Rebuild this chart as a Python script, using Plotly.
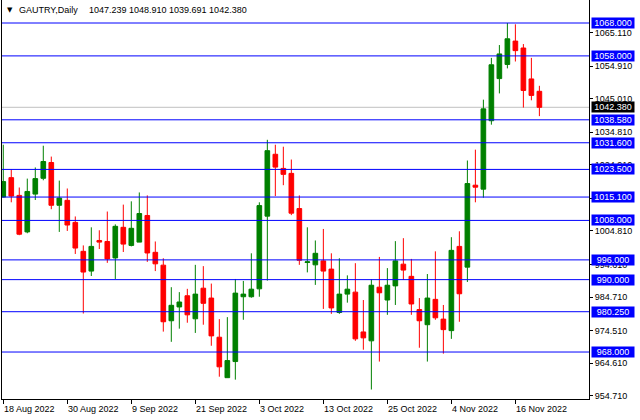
import pandas as pd
import plotly.graph_objects as go

# ---------------- data ----------------
dates = pd.bdate_range("2022-08-18", "2022-11-21").strftime("%Y-%m-%d").tolist()

opens = [1015.1, 1021.0, 1015.6, 1004.5, 1016.0, 1020.8, 1025.6, 1012.6, 1014.1, 1007.4,
         998.6, 992.6, 1001.9, 1001.6, 996.6, 1005.9, 1000.4, 1001.4, 1009.5, 998.3,
         994.4, 977.5, 981.7, 985.1, 978.1, 987.4, 984.4, 972.5, 960.2, 965.1,
         984.8, 984.8, 987.2, 1009.3, 1028.1, 1023.8, 1022.3, 1011.6, 995.2, 994.5,
         995.7, 993.2, 980.0, 985.6, 986.2, 974.1, 971.4, 987.7, 983.8, 988.1,
         994.7, 991.0, 980.9, 976.3, 984.0, 978.0, 974.5, 1000.1, 993.8, 1018.7,
         1017.5, 1038.3, 1051.1, 1055.4, 1062.5, 1060.4, 1051.0, 1047.239]
highs = [1031.0, 1023.5, 1018.0, 1020.7, 1024.1, 1030.7, 1027.4, 1020.1, 1017.7, 1009.2,
         1000.4, 1005.9, 1005.0, 1010.7, 1006.8, 1012.8, 1013.8, 1016.5, 1015.6, 1001.6,
         996.5, 987.7, 986.2, 987.2, 994.5, 994.1, 988.8, 978.0, 978.6, 990.2,
         989.6, 998.0, 1013.5, 1032.5, 1031.0, 1030.4, 1026.5, 1015.6, 1005.9, 1001.9,
         1005.4, 998.0, 996.5, 991.3, 995.0, 983.8, 990.1, 996.9, 993.5, 1001.7,
         1002.6, 996.3, 984.4, 991.7, 998.6, 982.3, 1002.9, 1004.7, 1026.2, 1029.5,
         1044.7, 1057.4, 1061.3, 1068.0, 1067.6, 1061.6, 1057.4, 1048.910]
lows = [1015.0, 1013.5, 1003.5, 1004.1, 1014.2, 1020.2, 1011.4, 1004.5, 1004.8, 997.8,
        979.7, 991.1, 999.3, 995.1, 990.2, 998.4, 1000.1, 1001.4, 995.4, 992.6,
        974.2, 971.1, 975.1, 976.9, 973.8, 976.3, 969.9, 960.5, 960.2, 959.6,
        977.8, 984.5, 984.8, 989.7, 1015.4, 1018.7, 1009.6, 994.5, 992.2, 988.4,
        981.1, 979.6, 979.6, 983.0, 971.4, 968.7, 956.6, 965.1, 979.3, 982.3,
        989.9, 979.3, 969.3, 965.1, 977.8, 967.5, 972.0, 977.2, 989.3, 1013.5,
        1014.9, 1037.1, 1046.6, 1054.2, 1056.3, 1042.3, 1044.5, 1039.691]
closes = [1019.8, 1015.4, 1003.8, 1016.8, 1020.7, 1025.9, 1012.6, 1014.8, 1006.6, 999.6,
          992.3, 1000.1, 1001.4, 996.3, 1006.2, 1000.8, 1005.6, 1010.1, 998.1, 994.8,
          977.2, 982.2, 983.2, 979.3, 985.6, 982.8, 972.9, 963.5, 965.4, 985.9,
          985.6, 987.1, 1012.5, 1029.2, 1024.2, 1022.0, 1010.2, 995.9, 995.4, 998.0,
          992.6, 981.4, 985.6, 987.1, 972.0, 972.3, 988.3, 986.0, 988.3, 995.7,
          992.9, 982.6, 977.5, 984.4, 978.4, 974.8, 998.9, 985.7, 1019.2, 1018.1,
          1041.9, 1055.3, 1058.6, 1063.2, 1059.6, 1047.5, 1046.0, 1042.380]

levels = [1068.0, 1058.0, 1038.58, 1031.6, 1023.5, 1015.1, 1008.0, 996.0, 990.0, 980.25, 968.0]
last_price = 1042.38

ytick_vals = [1065.11, 1054.91, 1045.01, 1034.81, 1024.91, 1014.71,
              1004.81, 994.61, 984.71, 974.51, 964.61, 954.71]

date_tick_idx = [0, 8, 16, 24, 32, 40, 48, 56, 64]
date_tick_labels = ["18 Aug 2022", "30 Aug 2022", "9 Sep 2022", "21 Sep 2022", "3 Oct 2022",
                    "13 Oct 2022", "25 Oct 2022", "4 Nov 2022", "16 Nov 2022"]

title_symbol = "GAUTRY,Daily"
title_values = "1047.239 1048.910 1039.691 1042.380"

# ---------------- figure ----------------
FONT = "Liberation Sans, Arial, sans-serif"
fig = go.Figure()
fig.add_trace(go.Candlestick(
    x=dates, open=opens, high=highs, low=lows, close=closes,
    increasing=dict(line=dict(color="#008000", width=1), fillcolor="#008000"),
    decreasing=dict(line=dict(color="#FF0000", width=1), fillcolor="#FF0000"),
    whiskerwidth=0, showlegend=False, hoverinfo="skip",
))

shapes = []
for lv in levels:
    shapes.append(dict(type="line", xref="paper", x0=0, x1=1, yref="y", y0=lv, y1=lv,
                       line=dict(color="#0000FF", width=1), layer="above"))
shapes.append(dict(type="line", xref="paper", x0=0, x1=1, yref="y", y0=last_price, y1=last_price,
                   line=dict(color="#C0C0C0", width=1), layer="below"))

annotations = []
for lv in levels:
    annotations.append(dict(xref="paper", x=1, xanchor="left", xshift=2, yref="y", y=lv,
                            yanchor="middle", text=f"{lv:.3f}", showarrow=False,
                            bgcolor="#0000FF", font=dict(color="white", size=9, family=FONT),
                            width=42, height=10, borderpad=0, align="center"))
annotations.append(dict(xref="paper", x=1, xanchor="left", xshift=2, yref="y", y=last_price,
                        yanchor="middle", text=f"{last_price:.3f}", showarrow=False,
                        bgcolor="#000000", font=dict(color="white", size=9, family=FONT),
                        width=42, height=10, borderpad=0, align="center"))
for i, lab in zip(date_tick_idx, date_tick_labels):
    annotations.append(dict(xref="x", x=dates[i], xanchor="left", xshift=-1,
                            yref="paper", y=0, yanchor="top", yshift=-3,
                            text=lab, showarrow=False,
                            font=dict(color="black", size=9, family=FONT)))
annotations.append(dict(xref="paper", x=0, xanchor="left", xshift=3, yref="paper", y=1,
                        yanchor="top", yshift=-4, text="▼", showarrow=False,
                        font=dict(color="black", size=7, family="DejaVu Sans")))
annotations.append(dict(xref="paper", x=0, xanchor="left", xshift=15, yref="paper", y=1,
                        yanchor="top", yshift=-3, text=title_symbol, showarrow=False,
                        font=dict(color="black", size=9, family=FONT)))
annotations.append(dict(xref="paper", x=0, xanchor="left", xshift=85, yref="paper", y=1,
                        yanchor="top", yshift=-3, text=title_values, showarrow=False,
                        font=dict(color="black", size=9, family=FONT)))

fig.update_layout(
    width=640, height=420,
    margin=dict(l=2, r=51, t=0, b=21, pad=0),
    paper_bgcolor="white", plot_bgcolor="white",
    boxgap=0.42, boxgroupgap=0,
    shapes=shapes, annotations=annotations,
    font=dict(family=FONT, size=9, color="black"),
    xaxis=dict(type="category", range=[-0.16, 73.2], rangeslider=dict(visible=False),
               showgrid=False, zeroline=False, showline=True, linecolor="black", linewidth=1,
               ticks="outside", ticklen=4, tickcolor="black", tickwidth=1,
               tickmode="array", tickvals=[dates[i] for i in date_tick_idx],
               showticklabels=False, fixedrange=True),
    yaxis=dict(side="right", range=[953.72, 1074.99], showgrid=False, zeroline=False,
               showline=True, mirror=True, linecolor="black", linewidth=1,
               ticks="outside", ticklen=3, tickcolor="black", tickwidth=1,
               tickmode="array", tickvals=ytick_vals,
               ticktext=[f"{v:.3f}" for v in ytick_vals],
               tickfont=dict(size=9, color="black", family=FONT), fixedrange=True),
)

fig.write_html("out.html", config={"displayModeBar": False},
               post_script="document.body.style.margin='0';document.body.style.padding='0';")
